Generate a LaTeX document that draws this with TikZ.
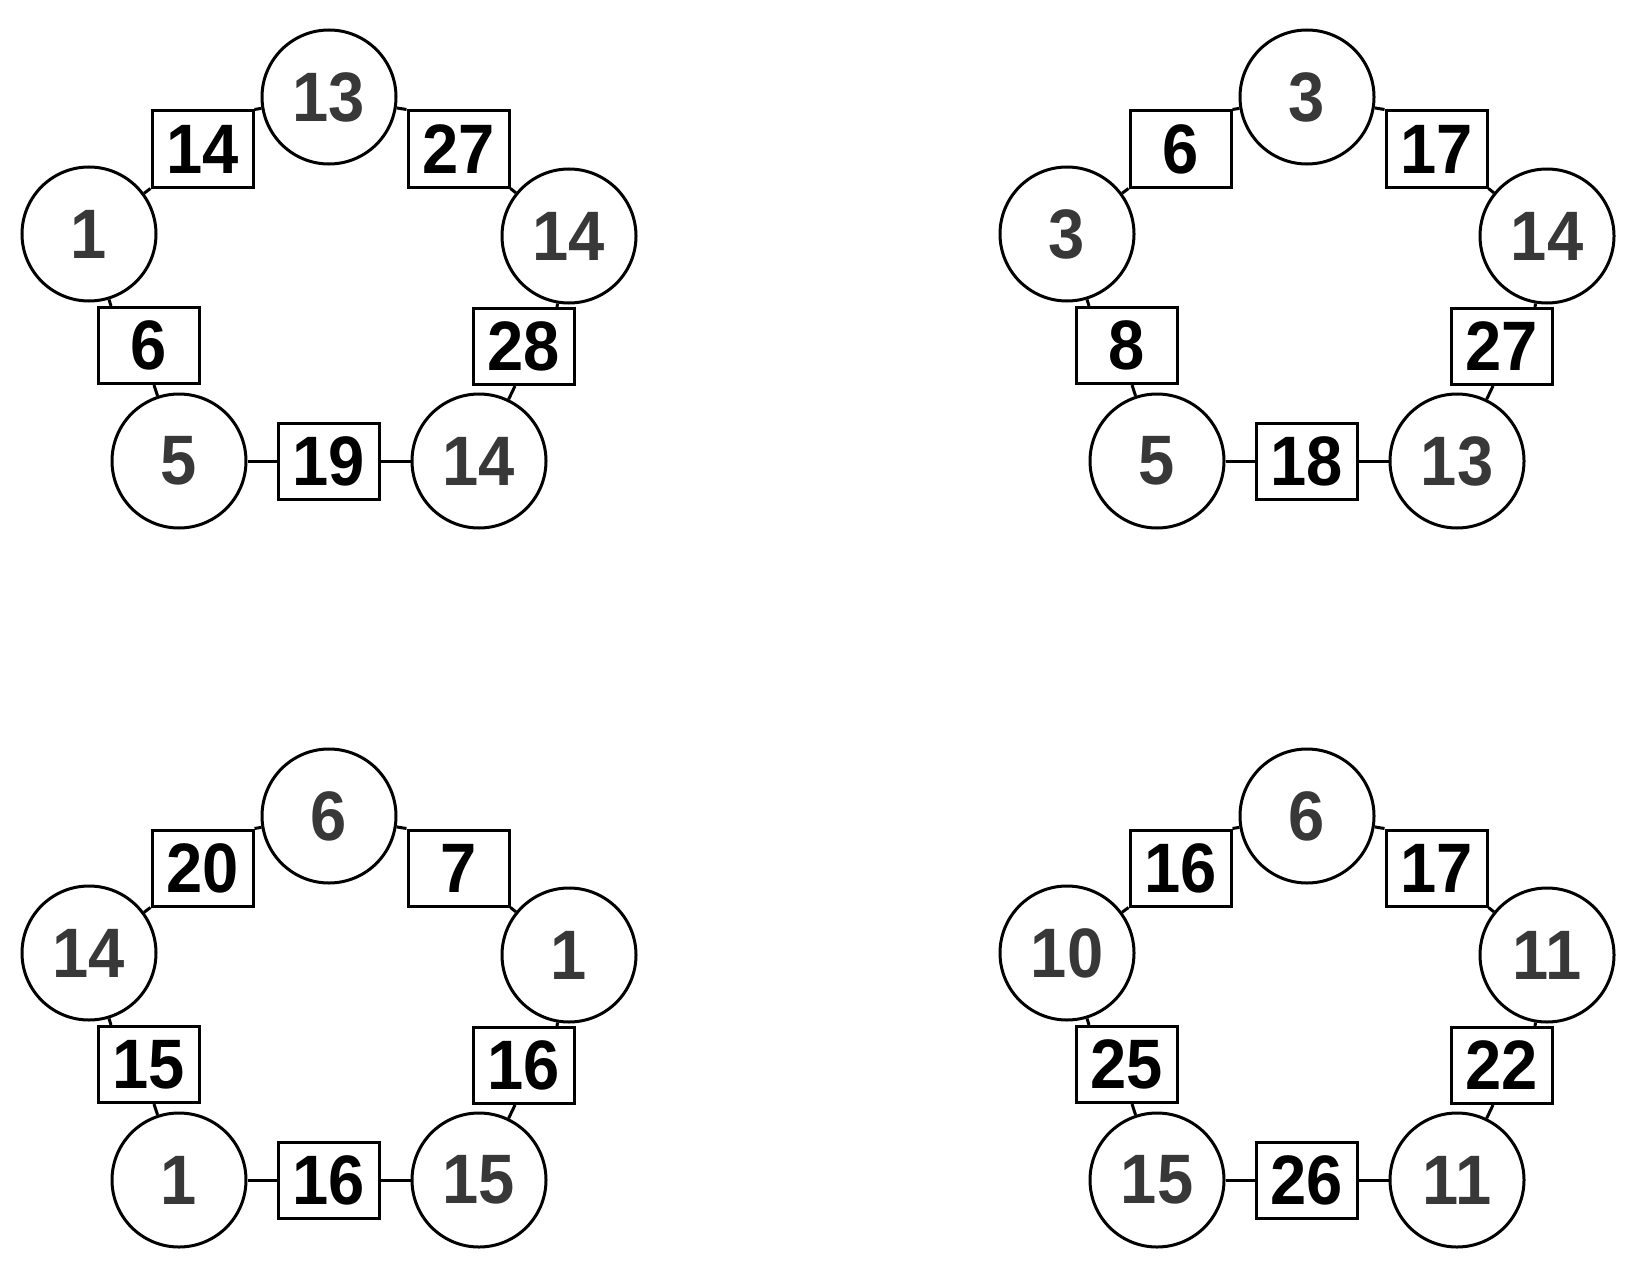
\documentclass[tikz,border=0pt]{standalone}
\usepackage{fontspec}
\setmainfont{Liberation Sans}
\newfontfamily\numfont[FakeStretch=0.93]{Liberation Sans}
\definecolor{circtext}{gray}{0.22}
\tikzset{
  num/.style={circle, draw, line width=1.5pt, minimum size=67pt, inner sep=0pt, fill=white,
    text=circtext, font=\numfont\bfseries\fontsize{35}{35}\selectfont},
  val/.style={rectangle, draw, line width=1.5pt, minimum width=50.5pt, minimum height=38pt,
    inner sep=0pt, fill=white, text=black, font=\numfont\bfseries\fontsize{35}{35}\selectfont},
  link/.style={line width=1.5pt}
}
\begin{document}
\begin{tikzpicture}[x=0.5pt,y=-0.5pt]
\useasboundingbox (0,0) rectangle (1638,1284);
\foreach \dx/\dy/\p/\cA/\cB/\cC/\cD/\cE/\bA/\bB/\bC/\bD/\bE in {
  0/0/A/13/1/14/5/14/14/27/6/28/19,
  978/0/B/3/3/14/5/13/6/17/8/27/18,
  0/719/C/6/14/1/1/15/20/7/15/16/16,
  978/719/D/6/10/11/15/11/16/17/25/22/26}{
  \begin{scope}[shift={(\dx,\dy)}]
    % circles
    \node[num] (\p-t)  at (329,97)  {\cA};
    \node[num] (\p-l)  at (89,234)  {\cB};
    \node[num] (\p-r)  at (569,236) {\cC};
    \node[num] (\p-bl) at (179,461) {\cD};
    \node[num] (\p-br) at (479,461) {\cE};
    % boxes
    \node[val] (\p-btl) at (202.5,149)   {\bA};
    \node[val] (\p-btr) at (458.5,149)   {\bB};
    \node[val] (\p-bl2) at (148.5,345.5) {\bC};
    \node[val] (\p-br2) at (523.5,346.5) {\bD};
    \node[val] (\p-bb)  at (328.5,461)   {\bE};
    % connectors
    \draw[link] (\p-btl.south west) -- (\p-l);
    \draw[link] (\p-btl.north east) -- (\p-t);
    \draw[link] (\p-btr.north west) -- (\p-t);
    \draw[link] (\p-btr.south east) -- (\p-r);
    \draw[link] ([xshift=16.75pt]\p-br2.north) -- (\p-r);
    \draw[link] ([xshift=-4.25pt]\p-br2.south) -- (\p-br);
    \draw[link] ([xshift=-18.75pt]\p-bl2.north) -- (\p-l);
    \draw[link] ([xshift=2.75pt]\p-bl2.south) -- (\p-bl);
    \draw[link] (\p-bb.west) -- (\p-bl);
    \draw[link] (\p-bb.east) -- (\p-br);
  \end{scope}
}
\end{tikzpicture}
\end{document}
